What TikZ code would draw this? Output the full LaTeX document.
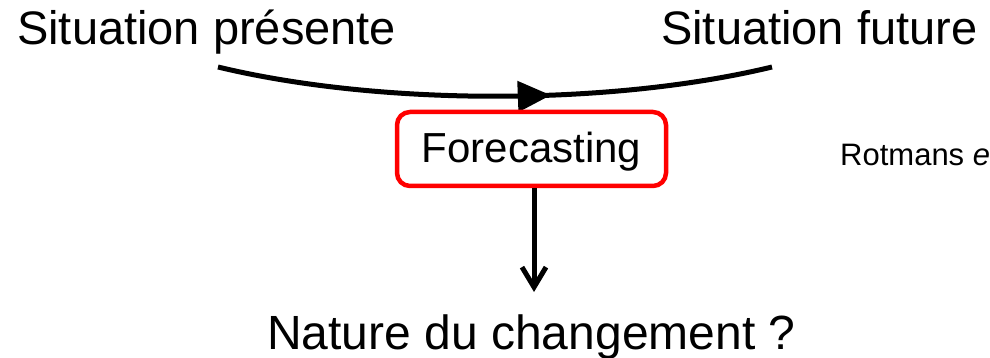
\documentclass[tikz,border=0pt]{standalone}
\usepackage{fontspec}
\setmainfont{Liberation Sans}
\usetikzlibrary{arrows.meta,decorations.markings}
\begin{document}
\begin{tikzpicture}[x=1pt,y=-1pt,
  title/.style={anchor=base west,inner sep=0pt,font=\fontsize{47}{56}\selectfont},
  fcbox/.style={draw=red,line width=4.5pt,rounded corners=13pt,minimum width=269pt,minimum height=74pt,inner sep=0pt,text height=37pt,text depth=9pt,font=\fontsize{42}{50}\selectfont},
  flow/.style={line width=5pt},
  note/.style={anchor=base west,inner sep=0pt,font=\fontsize{31}{37}\selectfont}]
\useasboundingbox (0,0) rectangle (990,358);
\node[title] (pres) at (17,45) {Situation présente};
\node[title] (fut) at (661,45) {Situation future};
\coordinate (cl) at (218,67);
\coordinate (cr) at (772,67);
\draw[flow,postaction={decorate},decoration={markings,mark=at position 0.6 with {\arrow{Triangle[length=33pt,width=30pt]}}}]
  (cl) .. controls (380,106) and (610,106) .. (cr);
\node[fcbox] (fc) at (531.5,149) {Forecasting};
\node[note] (rot) at (840,166) {Rotmans \textit{e}};
\coordinate (d) at (534,292);
\draw[flow,-{Straight Barb[length=20pt,width=24pt,line width=5pt]}] (fc.south -| d) -- (d);
\node[title,font=\fontsize{48}{58}\selectfont] (nat) at (267,349) {Nature du changement ?};
\end{tikzpicture}
\end{document}
